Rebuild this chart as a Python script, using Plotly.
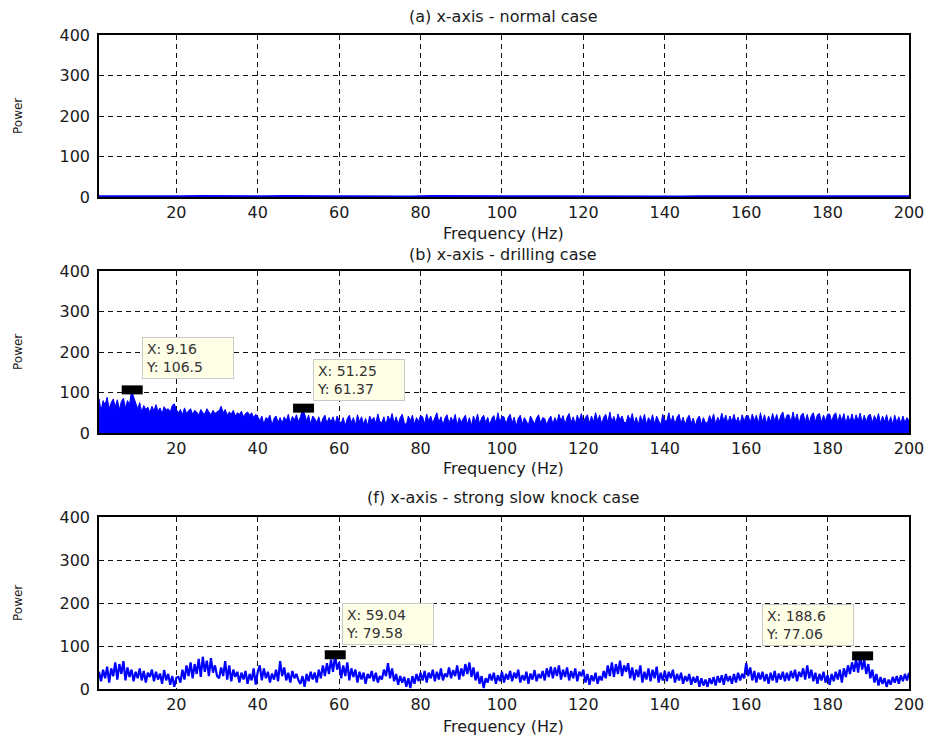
import numpy as np
import plotly.graph_objects as go

# ---------------- data ----------------
xticks = [20, 40, 60, 80, 100, 120, 140, 160, 180, 200]
yticks = [0, 100, 200, 300, 400]

titles = ["(a) x-axis - normal case", "(b) x-axis - drilling case",
          "(f) x-axis - strong slow knock case"]

# (a) normal case: essentially flat near zero
power_a = [1.5, 1.0, 1.8, 0.8, 1.2, 1.6, 0.9, 1.4, 1.1, 1.7,
           0.9, 1.3, 1.5, 1.0, 1.2, 0.8, 1.6, 1.1, 1.4, 0.9,
           1.3, 1.0, 1.5, 1.2, 0.8, 1.4, 1.1, 1.6, 0.9, 1.3,
           1.2, 1.0, 1.5, 0.9, 1.3, 1.1, 1.4, 1.0, 1.2, 1.1]

# (b) drilling case (0.5 Hz resolution, 1..200 Hz)
power_b = [
    85, 55, 80, 70, 88, 60, 75, 84, 65, 82, 58, 78, 86, 62, 80, 70, 104, 90, 72,
    60, 75, 52, 68, 58, 64, 50, 66, 55, 70, 54, 62, 48, 65, 57, 60, 52, 68, 72, 58,
    50, 58, 45, 62, 48, 55, 60, 46, 56, 52, 44, 58, 50, 47, 60, 52, 45, 56, 48, 53,
    55, 66, 50, 58, 44, 52, 47, 56, 42, 50, 46, 54, 40, 48, 52, 44, 50, 38, 46, 41,
    30, 42, 22, 38, 34, 44, 20, 36, 42, 26, 38, 24, 40, 30, 46, 25, 41, 32, 45, 28,
    40, 60, 48, 30, 44, 22, 42, 36, 26, 40, 20, 36, 44, 24, 38, 28, 40, 22, 42, 30,
    24, 38, 18, 36, 44, 26, 38, 20, 45, 28, 40, 22, 36, 18, 42, 30, 39, 24, 47, 28,
    26, 40, 20, 42, 30, 48, 24, 40, 22, 38, 46, 26, 20, 42, 30, 44, 22, 38, 28, 43,
    40, 22, 47, 30, 42, 24, 38, 50, 26, 40, 20, 37, 45, 24, 39, 28, 46, 20, 38, 26,
    36, 44, 22, 38, 18, 42, 28, 47, 22, 37, 44, 25, 39, 20, 36, 43, 24, 50, 28, 40,
    40, 22, 38, 46, 25, 39, 18, 36, 44, 22, 38, 28, 20, 42, 30, 22, 37, 45, 24, 38,
    36, 20, 34, 42, 22, 38, 26, 46, 30, 43, 22, 39, 48, 26, 40, 22, 44, 30, 48, 27,
    38, 45, 24, 42, 28, 50, 30, 44, 22, 39, 46, 26, 52, 28, 41, 24, 47, 32, 42, 26,
    26, 44, 30, 48, 24, 39, 20, 43, 28, 46, 22, 38, 28, 45, 22, 42, 30, 20, 46, 30,
    30, 50, 26, 43, 22, 38, 46, 24, 39, 20, 36, 44, 24, 37, 18, 35, 42, 22, 38, 25,
    26, 43, 30, 47, 22, 39, 28, 49, 30, 44, 24, 42, 28, 46, 26, 39, 22, 45, 30, 42,
    43, 26, 47, 30, 44, 24, 50, 28, 45, 24, 42, 28, 48, 30, 46, 26, 43, 52, 28, 44,
    45, 27, 52, 30, 47, 24, 44, 49, 28, 46, 26, 43, 50, 28, 45, 48, 26, 44, 30, 46,
    47, 28, 44, 50, 26, 46, 30, 48, 24, 43, 28, 47, 26, 45, 30, 49, 26, 44, 28, 43,
    46, 26, 43, 30, 48, 24, 42, 28, 45, 24, 40, 22, 44, 26, 40, 24, 42, 26, 38, 30,
]

# (f) strong slow knock case (0.5 Hz resolution, 1..200 Hz)
power_c = [
    40, 18, 45, 25, 52, 15, 48, 30, 62, 22, 58, 35, 65, 20, 50, 28, 45, 18, 40,
    25, 48, 20, 42, 15, 38, 28, 45, 18, 40, 22, 36, 12, 44, 20, 35, 10, 30, 5, 26,
    28, 15, 45, 22, 55, 30, 62, 25, 58, 35, 70, 28, 75, 40, 66, 30, 72, 38, 55, 30,
    25, 50, 30, 65, 22, 55, 18, 45, 28, 40, 15, 38, 22, 42, 12, 35, 20, 48, 10, 40,
    55, 20, 48, 25, 40, 15, 36, 22, 45, 18, 65, 30, 50, 20, 38, 15, 42, 25, 35, 20,
    12, 30, 5, 35, 18, 40, 22, 38, 15, 45, 25, 55, 30, 60, 35, 68, 40, 79, 45, 62,
    25, 55, 30, 62, 20, 48, 28, 45, 15, 40, 22, 38, 12, 35, 25, 42, 18, 38, 15, 30,
    22, 45, 30, 60, 25, 48, 18, 35, 10, 30, 15, 28, 5, 25, 2, 30, 12, 35, 18, 38,
    20, 42, 15, 38, 25, 45, 18, 40, 22, 48, 20, 36, 28, 50, 25, 44, 30, 55, 22, 48,
    30, 58, 35, 62, 28, 50, 20, 40, 12, 30, 2, 25, 15, 35, 20, 38, 12, 32, 18, 40,
    15, 35, 22, 42, 18, 38, 25, 45, 15, 32, 20, 40, 12, 36, 22, 44, 18, 35, 25, 42,
    20, 48, 28, 52, 25, 50, 30, 55, 22, 45, 28, 50, 20, 42, 25, 48, 18, 40, 30, 45,
    15, 35, 10, 32, 18, 38, 12, 30, 20, 42, 25, 55, 30, 62, 28, 58, 35, 66, 30, 55,
    40, 60, 25, 50, 20, 45, 28, 55, 15, 40, 22, 48, 18, 45, 25, 52, 15, 38, 20, 42,
    18, 40, 25, 45, 15, 35, 20, 38, 12, 30, 18, 35, 10, 28, 15, 30, 5, 25, 8, 22,
    5, 25, 12, 28, 8, 30, 15, 32, 10, 35, 18, 30, 12, 35, 15, 38, 20, 35, 25, 60,
    30, 50, 20, 42, 15, 38, 22, 40, 18, 35, 12, 38, 20, 42, 15, 36, 22, 40, 18, 38,
    20, 42, 25, 45, 18, 40, 28, 48, 22, 55, 25, 45, 18, 38, 12, 35, 20, 40, 15, 32,
    10, 35, 18, 40, 22, 45, 15, 48, 28, 55, 35, 62, 40, 70, 38, 77, 45, 68, 35, 58,
    25, 45, 15, 35, 8, 28, 12, 25, 5, 22, 10, 28, 15, 30, 12, 32, 18, 35, 20, 38,
]

# data tips (X, Y) per panel
tips_b_x = [9.16, 51.25]
tips_b_y = [106.5, 61.37]
tips_c_x = [59.04, 188.6]
tips_c_y = [79.58, 77.06]

freq_a = np.linspace(1, 200, len(power_a))
freq_b = np.linspace(1, 200, len(power_b))
freq_c = np.linspace(1, 200, len(power_c))

# ---------------- layout helpers ----------------
W, H = 935, 738
FONT = "DejaVu Sans"
BLUE = "#0000FF"
TXT = "#1a1a1a"


def px_x(p):
    return p / W


def px_y(p):
    return 1 - p / H


panels = [  # (top px, bottom px)
    (35, 197),
    (271, 433),
    (517, 689),
]
title_y = [16, 254, 497]
xlabel_y = [233, 469, 726]
x0, x1 = 99, 909

fig = go.Figure()

fig.add_trace(go.Scatter(x=freq_a, y=power_a, mode="lines",
                         line=dict(color=BLUE, width=2.5),
                         xaxis="x", yaxis="y", hoverinfo="skip"))
fig.add_trace(go.Scatter(x=freq_b, y=power_b, mode="lines", fill="tozeroy",
                         fillcolor=BLUE, line=dict(color=BLUE, width=1),
                         xaxis="x2", yaxis="y2", hoverinfo="skip"))
fig.add_trace(go.Scatter(x=freq_c, y=power_c, mode="lines",
                         line=dict(color=BLUE, width=2.2),
                         xaxis="x3", yaxis="y3", hoverinfo="skip"))

# data tip markers
for tx, ty, ax_, ay_ in [(tips_b_x, tips_b_y, "x2", "y2"),
                         (tips_c_x, tips_c_y, "x3", "y3")]:
    fig.add_trace(go.Scatter(x=tx, y=ty, mode="markers",
                             marker=dict(symbol="line-ew", size=15,
                                         line=dict(color="black", width=9)),
                             xaxis=ax_, yaxis=ay_, hoverinfo="skip"))

axis_common = dict(showline=True, linecolor="black", linewidth=1.5, mirror=True,
                   showgrid=True, gridcolor="#111111", gridwidth=1.2,
                   griddash="5px,4px", zeroline=False, ticks="",
                   layer="below traces", automargin=False,
                   tickfont=dict(family=FONT, size=16, color=TXT))

layout = dict(width=W, height=H, margin=dict(l=0, r=0, t=0, b=0, autoexpand=False),
              paper_bgcolor="white", plot_bgcolor="white", showlegend=False)

for i, (top, bot) in enumerate(panels):
    sfx = "" if i == 0 else str(i + 1)
    layout["xaxis" + sfx] = dict(axis_common, domain=[px_x(x0), px_x(x1)],
                                 anchor="y" + sfx, range=[1, 200],
                                 tickvals=xticks, ticklabelstandoff=0)
    layout["yaxis" + sfx] = dict(axis_common, domain=[px_y(bot), px_y(top)],
                                 anchor="x" + sfx, range=[0, 400],
                                 tickvals=yticks, ticklabelstandoff=4)

fig.update_layout(**layout)

annotations = []
for i, (top, bot) in enumerate(panels):
    annotations.append(dict(text=titles[i], x=px_x(503), y=px_y(title_y[i]),
                            xref="paper", yref="paper", showarrow=False,
                            xanchor="center", yanchor="middle",
                            font=dict(family=FONT, size=16, color=TXT)))
    annotations.append(dict(text="Frequency (Hz)", x=px_x(503), y=px_y(xlabel_y[i]),
                            xref="paper", yref="paper", showarrow=False,
                            xanchor="center", yanchor="middle",
                            font=dict(family=FONT, size=16, color=TXT)))
    annotations.append(dict(text="Power", x=px_x(18), y=px_y((top + bot) / 2),
                            xref="paper", yref="paper", showarrow=False,
                            xanchor="center", yanchor="middle",
                            textangle=-90,
                            font=dict(family=FONT, size=12, color=TXT)))

tip_shift = {"x2": [(56, 32), (55, 28)], "x3": [(53, 31), (-55, 31)]}
for tx, ty, ax_, ay_ in [(tips_b_x, tips_b_y, "x2", "y2"),
                         (tips_c_x, tips_c_y, "x3", "y3")]:
    for k, (xv, yv) in enumerate(zip(tx, ty)):
        dx, dy = tip_shift[ax_][k]
        annotations.append(dict(
            text=f"X: {xv:g}<br>Y: {yv:g}", x=xv, y=yv, xref=ax_, yref=ay_,
            showarrow=False, xshift=dx, yshift=dy, align="left", width=84,
            xanchor="center", yanchor="middle",
            bgcolor="#FFFFE8", bordercolor="#C8C8C8", borderwidth=1, borderpad=3,
            font=dict(family=FONT, size=14, color="#333333")))

fig.update_layout(annotations=annotations)

fig.write_html("out.html")
